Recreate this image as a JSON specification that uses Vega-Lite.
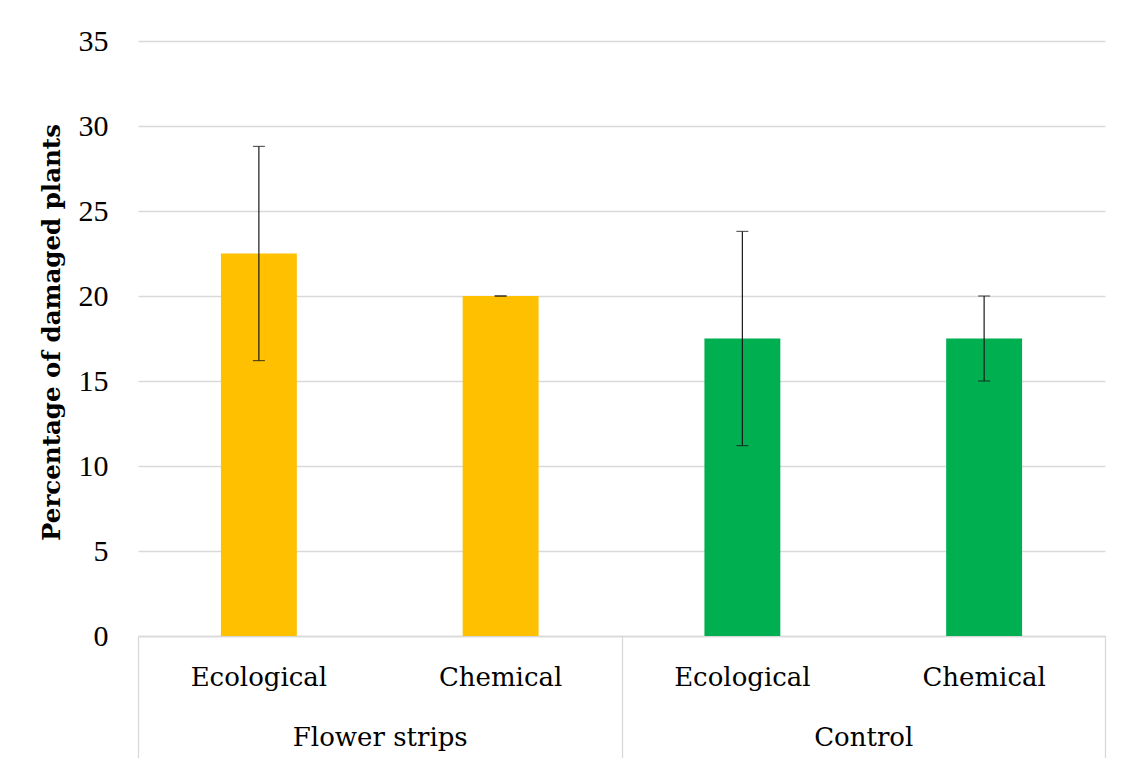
{
  "$schema": "https://vega.github.io/schema/vega-lite/v6.json",
  "autosize": {"type": "none"},
  "width": 967,
  "height": 595,
  "padding": {"left": 138, "top": 41, "right": 16, "bottom": 122},
  "background": "white",
  "title": {"text": "(a)", "font": "DejaVu Serif", "fontWeight": "bold", "fontSize": 25, "anchor": "middle", "baseline": "middle", "offset": 0, "dx": -53, "color": "black"},
  "data": {
    "values": [
      {"group": "Flower strips", "treatment": "Ecological", "key": "Flower strips|Ecological", "value": 22.5, "low": 16.2, "high": 28.8},
      {"group": "Flower strips", "treatment": "Chemical", "key": "Flower strips|Chemical", "value": 20.0, "low": 20.0, "high": 20.0},
      {"group": "Control", "treatment": "Ecological", "key": "Control|Ecological", "value": 17.5, "low": 11.2, "high": 23.8},
      {"group": "Control", "treatment": "Chemical", "key": "Control|Chemical", "value": 17.5, "low": 15.0, "high": 20.0}
    ]
  },
  "encoding": {
    "y": {
      "type": "quantitative",
      "scale": {"domain": [0, 35], "nice": false},
      "axis": {
        "title": "Percentage of damaged plants",
        "titleFont": "DejaVu Serif",
        "titleFontWeight": "bold",
        "titleFontSize": 24.5,
        "titleColor": "black",
        "titleX": -86,
        "titleY": 291,
        "titleAngle": -90,
        "titleAlign": "center",
        "titleBaseline": "middle",
        "values": [0, 5, 10, 15, 20, 25, 30, 35],
        "labelFont": "Liberation Serif",
        "labelFontSize": 30,
        "labelColor": "black",
        "labelPadding": 30,
        "domain": false,
        "ticks": false,
        "grid": true,
        "gridColor": "#d9d9d9",
        "gridWidth": 1.3
      }
    }
  },
  "layer": [
    {
      "encoding": {
        "x": {
          "field": "key", "type": "nominal",
          "sort": ["Flower strips|Ecological", "Flower strips|Chemical", "Control|Ecological", "Control|Chemical"],
          "scale": {"paddingInner": 0.686, "paddingOuter": 0.343},
          "axis": {
            "title": null,
            "orient": "bottom",
            "labelExpr": "split(datum.label, '|')[1]",
            "labelAngle": 0,
            "labelFont": "DejaVu Serif",
            "labelFontSize": 26,
            "labelColor": "black",
            "labelPadding": 28,
            "ticks": false,
            "domain": true,
            "domainColor": "#d9d9d9",
            "domainWidth": 1.3,
            "grid": false
          }
        }
      },
      "layer": [
        {
          "mark": {"type": "bar"},
          "encoding": {
            "y": {"field": "value"},
            "color": {
              "field": "group", "type": "nominal",
              "scale": {"domain": ["Flower strips", "Control"], "range": ["#FFC000", "#00B050"]},
              "legend": null
            }
          }
        },
        {
          "mark": {"type": "rule", "color": "#1a1a1a", "strokeWidth": 1.2},
          "encoding": {
            "y": {"field": "low"},
            "y2": {"field": "high"}
          }
        },
        {
          "mark": {"type": "tick", "color": "#1a1a1a", "thickness": 1.2, "size": 12, "orient": "horizontal"},
          "encoding": {"y": {"field": "low"}}
        },
        {
          "mark": {"type": "tick", "color": "#1a1a1a", "thickness": 1.2, "size": 12, "orient": "horizontal"},
          "encoding": {"y": {"field": "high"}}
        }
      ]
    },
    {
      "mark": {"type": "bar", "opacity": 0},
      "encoding": {
        "x": {
          "field": "group", "type": "nominal",
          "sort": ["Flower strips", "Control"],
          "scale": {"paddingInner": 0, "paddingOuter": 0},
          "axis": {
            "title": null,
            "orient": "bottom",
            "labelAngle": 0,
            "labelFont": "DejaVu Serif",
            "labelFontSize": 26,
            "labelColor": "black",
            "labelPadding": -34,
            "ticks": true,
            "tickBand": "extent",
            "tickSize": 122,
            "tickColor": "#d9d9d9",
            "tickWidth": 1.3,
            "domain": false,
            "grid": false
          }
        },
        "y": {"field": "value"}
      }
    }
  ],
  "resolve": {"scale": {"x": "independent"}, "axis": {"x": "independent"}},
  "config": {"view": {"stroke": null}}
}
